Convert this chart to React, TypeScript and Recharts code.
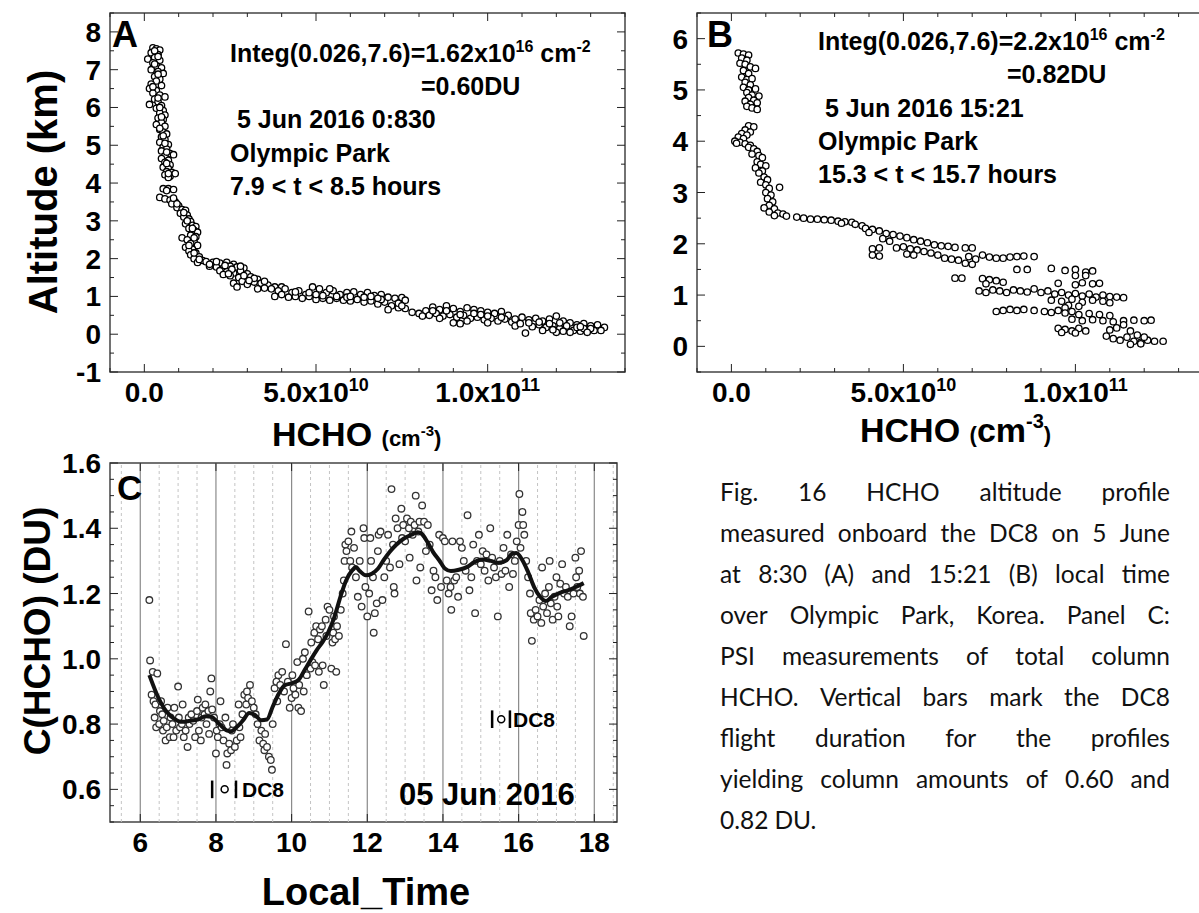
import React from 'react'
import {
  ScatterChart,
  Scatter,
  XAxis,
  YAxis,
  ReferenceArea,
  ReferenceLine,
  ReferenceDot,
} from 'recharts'

const FONT = '"Liberation Sans", Arial, Helvetica, sans-serif'

// Panel A: DC8 profile, 5 Jun 2016 ~08:30. [HCHO (x1e10 cm-3), altitude km]
const profileA: [number, number][] = [
  [0.25, 7.58], [0.35, 7.55], [0.45, 7.52], [0.2, 7.45], [0.4, 7.4], [0.3, 7.32], [0.1, 7.28], [0.45, 7.25],
  [0.25, 7.18], [0.35, 7.1], [0.5, 7.05], [0.2, 7.0], [0.4, 6.95], [0.55, 6.9], [0.3, 6.82], [0.45, 6.75],
  [0.35, 6.7], [0.2, 6.62], [0.5, 6.58], [0.15, 6.5], [0.35, 6.45], [0.25, 6.38], [0.45, 6.33], [0.6, 6.28],
  [0.3, 6.22], [0.15, 6.08], [0.4, 6.15], [0.5, 6.05], [0.35, 5.98], [0.55, 5.92], [0.45, 5.85], [0.6, 5.8],
  [0.4, 5.72], [0.55, 5.68], [0.5, 5.6], [0.35, 5.55], [0.6, 5.5], [0.45, 5.42], [0.55, 5.35], [0.65, 5.3],
  [0.5, 5.22], [0.6, 5.15], [0.45, 5.08], [0.7, 5.02], [0.55, 4.95], [0.65, 4.9], [0.5, 4.85], [0.75, 4.78],
  [0.6, 4.72], [0.85, 4.75], [0.5, 4.65], [0.7, 4.6], [0.6, 4.55], [0.75, 4.48], [0.55, 4.42], [0.7, 4.38],
  [0.65, 4.3], [0.8, 4.28], [0.6, 4.22], [0.75, 4.18], [0.7, 4.15], [0.9, 4.25],
  [0.3, 7.5], [0.4, 7.35], [0.3, 7.15], [0.4, 6.88], [0.25, 6.55], [0.4, 6.25], [0.45, 6.0], [0.5, 5.75],
  [0.45, 5.45], [0.55, 5.25], [0.6, 5.05], [0.65, 4.82], [0.65, 4.52], [0.7, 4.25],
  [0.55, 3.85], [0.7, 3.85], [0.85, 3.83], [0.45, 3.62], [0.6, 3.58], [0.75, 3.55], [0.9, 3.5], [0.8, 3.45],
  [1.0, 3.4], [0.95, 3.35], [1.1, 3.3], [1.2, 3.28], [1.05, 3.2], [1.25, 3.15], [1.15, 3.1], [1.3, 3.05],
  [1.35, 2.98], [1.2, 2.92], [1.4, 2.88], [1.5, 2.85], [1.3, 2.8], [1.45, 2.75], [1.55, 2.7], [1.35, 2.62],
  [1.5, 2.58], [1.1, 2.55], [1.25, 2.5], [1.45, 2.45], [1.35, 2.4], [1.55, 2.35], [1.2, 2.3], [1.4, 2.25],
  [1.3, 2.2], [1.5, 2.15], [1.35, 2.1], [1.6, 2.05], [1.45, 2.0], [1.7, 1.95], [1.55, 1.9],
  [0.65, 3.8], [0.85, 3.6], [0.95, 3.45], [1.15, 3.22], [1.25, 3.0], [1.4, 2.8], [1.45, 2.55], [1.3, 2.35],
  [1.45, 2.15], [1.6, 1.98],
  [1.8, 1.92], [2.0, 1.9], [2.2, 1.88], [2.4, 1.9], [2.6, 1.85], [1.9, 1.8], [2.1, 1.78], [2.3, 1.75],
  [2.5, 1.8], [2.7, 1.78], [2.9, 1.75], [2.2, 1.68], [2.4, 1.65], [2.6, 1.62], [2.8, 1.68], [3.0, 1.6],
  [2.3, 1.58], [2.5, 1.55], [2.75, 1.5], [3.1, 1.52], [3.3, 1.45], [2.6, 1.35], [2.85, 1.4], [3.0, 1.32],
  [3.2, 1.38], [3.4, 1.35], [3.6, 1.3], [2.7, 1.25], [3.5, 1.22], [3.8, 1.25], [3.3, 1.2],
  [1.9, 1.85], [2.1, 1.92], [2.35, 1.82], [2.55, 1.72], [2.8, 1.8], [2.45, 1.6], [2.9, 1.55], [3.2, 1.48],
  [3.05, 1.42], [3.5, 1.4], [3.7, 1.2], [4.0, 1.25],
  [3.9, 1.15], [4.1, 1.2], [4.3, 1.1], [4.5, 1.15], [4.7, 1.05], [4.9, 1.25], [5.1, 1.2], [5.3, 1.1],
  [5.5, 1.15], [5.7, 1.05], [5.9, 1.1], [6.1, 1.12], [6.3, 1.05], [6.5, 1.1], [6.7, 1.02], [6.9, 1.05],
  [4.2, 0.98], [4.4, 1.0], [4.6, 0.95], [4.8, 1.0], [5.0, 0.92], [5.2, 0.95], [5.4, 0.9], [5.6, 0.95],
  [5.8, 0.9], [6.0, 0.88], [6.2, 0.92], [6.4, 0.85], [6.6, 0.88], [6.8, 0.8], [7.0, 0.85], [4.0, 1.05],
  [3.8, 1.0], [5.0, 1.05], [5.9, 0.98], [6.9, 0.92], [7.1, 0.98], [7.3, 0.95], [7.5, 0.97], [7.2, 0.75],
  [7.4, 0.7], [7.6, 0.68], [7.1, 0.65],
  [4.4, 1.12], [4.8, 1.1], [5.2, 1.02], [5.6, 1.0], [6.0, 1.0], [6.4, 0.98], [6.8, 0.95], [5.4, 1.2],
  [6.6, 1.0], [7.4, 0.82], [7.6, 0.9], [7.5, 0.75],
  [7.8, 0.58], [8.0, 0.55], [8.2, 0.62], [8.4, 0.72], [8.6, 0.65], [8.8, 0.75], [9.0, 0.68], [9.2, 0.6],
  [9.4, 0.7], [9.6, 0.65], [9.8, 0.62], [10.0, 0.58], [10.2, 0.55], [10.4, 0.6], [10.6, 0.5], [8.3, 0.5],
  [8.5, 0.55], [8.7, 0.48], [8.9, 0.52], [9.1, 0.45], [9.3, 0.5], [9.5, 0.42], [9.7, 0.45], [9.9, 0.38],
  [10.1, 0.42], [10.3, 0.35], [10.5, 0.4], [10.7, 0.32], [9.0, 0.3], [9.2, 0.28], [9.4, 0.35], [10.0, 0.3],
  [10.8, 0.22],
  [8.1, 0.48], [8.4, 0.62], [8.8, 0.62], [9.2, 0.52], [9.6, 0.55], [10.0, 0.48], [10.4, 0.45], [10.8, 0.4],
  [9.8, 0.52], [8.6, 0.42],
  [11.0, 0.45], [11.2, 0.38], [11.4, 0.42], [11.6, 0.35], [11.8, 0.4], [12.0, 0.48], [12.2, 0.35], [12.4, 0.3],
  [12.6, 0.25], [12.8, 0.28], [13.0, 0.22], [13.2, 0.25], [13.4, 0.18], [11.1, 0.03], [11.3, 0.2], [11.5, 0.25],
  [11.7, 0.18], [11.9, 0.22], [12.1, 0.15], [12.3, 0.12], [12.5, 0.1], [12.7, 0.08], [12.9, 0.12], [13.1, 0.1],
  [12.0, 0.05], [12.4, 0.05], [11.6, 0.1], [10.95, 0.28], [12.6, 0.18], [12.8, 0.15],
  [11.2, 0.3], [11.5, 0.32], [11.8, 0.28], [12.1, 0.3], [12.3, 0.22], [12.7, 0.2], [13.0, 0.15], [13.3, 0.1],
  [12.2, 0.08], [12.9, 0.05], [11.9, 0.12],
]

// Panel B: DC8 profile, 5 Jun 2016 15:21. [HCHO (x1e10 cm-3), altitude km]
const profileB: [number, number][] = [
  [0.2, 5.72], [0.35, 5.7], [0.5, 5.68], [0.3, 5.62], [0.45, 5.58], [0.25, 5.52], [0.4, 5.5], [0.55, 5.45],
  [0.7, 5.42], [0.35, 5.38], [0.5, 5.32], [0.3, 5.25], [0.45, 5.2], [0.6, 5.22], [0.4, 5.15], [0.55, 5.1],
  [0.35, 5.05], [0.5, 5.0], [0.7, 5.02], [0.45, 4.95], [0.6, 4.9], [0.8, 4.88], [0.5, 4.85], [0.65, 4.8],
  [0.4, 4.78], [0.75, 4.75], [0.55, 4.72], [0.45, 4.68], [0.6, 4.65], [0.75, 4.62],
  [0.5, 4.3], [0.65, 4.28], [0.4, 4.22], [0.55, 4.18], [0.3, 4.15], [0.45, 4.12], [0.2, 4.08], [0.35, 4.05],
  [0.1, 4.0], [0.25, 3.98], [0.4, 3.95], [0.55, 3.92], [0.15, 3.96], [0.5, 3.88], [0.65, 3.85], [0.75, 3.8],
  [0.6, 3.75], [0.8, 3.72], [0.9, 3.68], [0.75, 3.6], [0.85, 3.55], [1.0, 3.52], [0.7, 3.48], [0.9, 3.42],
  [0.8, 3.38], [0.95, 3.3], [1.05, 3.25], [0.85, 3.2], [1.0, 3.15], [1.1, 3.08], [1.4, 3.1], [1.0, 3.0],
  [1.15, 2.95], [1.05, 2.88], [1.2, 2.82], [1.1, 2.75], [0.95, 2.7], [1.25, 2.68], [1.1, 2.62], [1.35, 2.6],
  [1.5, 2.58], [1.25, 2.55], [1.6, 2.54],
  [1.9, 2.52], [2.1, 2.5], [2.3, 2.48], [2.5, 2.48], [2.7, 2.47], [2.9, 2.46], [3.1, 2.44], [3.3, 2.43],
  [3.5, 2.42], [3.2, 2.4], [3.6, 2.38], [3.8, 2.35], [3.9, 2.3], [4.1, 2.28], [4.3, 2.25], [4.0, 2.22],
  [4.5, 2.2], [4.7, 2.18], [4.9, 2.15], [5.1, 2.12], [4.4, 2.1], [4.6, 2.05], [5.3, 2.08], [5.5, 2.05],
  [5.7, 2.02], [5.9, 1.98], [6.1, 1.96], [6.3, 1.95], [6.5, 1.93], [6.8, 1.92], [7.0, 1.92], [4.1, 1.9],
  [4.3, 1.92], [4.8, 1.92], [5.0, 1.94], [5.2, 1.9], [5.4, 1.88], [5.6, 1.85], [5.8, 1.82], [6.0, 1.78],
  [4.1, 1.78], [4.3, 1.76], [5.1, 1.8], [5.3, 1.78], [6.2, 1.72], [6.4, 1.7], [6.6, 1.68], [6.9, 1.75],
  [7.1, 1.7], [7.3, 1.78], [7.5, 1.74], [7.7, 1.72], [7.9, 1.72], [8.1, 1.74], [8.3, 1.75], [8.5, 1.76],
  [8.8, 1.75], [6.8, 1.62], [7.0, 1.6],
  [8.6, 1.5], [9.3, 1.52], [9.7, 1.48], [10.0, 1.5], [10.3, 1.45], [10.5, 1.47], [8.3, 1.5], [10.0, 1.38],
  [10.3, 1.38], [6.5, 1.33], [6.7, 1.33], [7.3, 1.32], [7.5, 1.3], [7.7, 1.28], [7.9, 1.25], [7.4, 1.22],
  [9.5, 1.23], [10.0, 1.2], [10.2, 1.24], [10.5, 1.22], [10.7, 1.23], [7.2, 1.08], [7.4, 1.05], [7.6, 1.1],
  [7.8, 1.08], [8.0, 1.05], [8.2, 1.1], [8.4, 1.08], [8.6, 1.06], [8.8, 1.12], [9.0, 1.05], [9.2, 1.08],
  [9.4, 1.02], [9.6, 1.05], [9.8, 1.0], [10.0, 1.03], [10.2, 0.98], [10.4, 1.02], [10.6, 0.96], [10.8, 1.0],
  [11.0, 0.97], [11.2, 0.96], [11.4, 0.95], [9.3, 0.9], [9.6, 0.88], [9.9, 0.92], [10.2, 0.86], [10.5, 0.9],
  [10.8, 0.88], [11.0, 0.85], [9.8, 0.8], [9.7, 0.75], [10.1, 0.78],
  [7.7, 0.68], [7.9, 0.7], [8.1, 0.72], [8.3, 0.7], [8.5, 0.72], [8.8, 0.7], [9.1, 0.68], [9.3, 0.66],
  [9.5, 0.7], [9.7, 0.65], [9.9, 0.68], [10.1, 0.62], [10.4, 0.64], [10.7, 0.62], [11.0, 0.6], [9.9, 0.53],
  [10.2, 0.5], [10.5, 0.52], [10.8, 0.5], [11.1, 0.48], [11.4, 0.5], [11.7, 0.51], [12.0, 0.5], [12.2, 0.51],
  [9.5, 0.35], [9.7, 0.33], [9.9, 0.3], [10.1, 0.35], [10.3, 0.3], [9.6, 0.27], [10.0, 0.26], [10.9, 0.2],
  [11.1, 0.15], [11.3, 0.12], [11.5, 0.18], [11.7, 0.1], [11.9, 0.08], [12.1, 0.12], [12.3, 0.1], [12.55, 0.1],
  [11.0, 0.32], [11.2, 0.36], [11.6, 0.3], [11.8, 0.22], [12.0, 0.18], [11.4, 0.42], [11.9, 0.05], [11.6, 0.04],
]

// Panel C: PSI total column HCHO. [local time h, DU]
const psiC: [number, number][] = [
  [6.24, 1.18], [6.26, 0.995], [6.33, 0.96], [6.45, 0.955], [6.3, 0.89], [6.35, 0.87], [6.4, 0.86], [6.38, 0.82],
  [6.42, 0.79], [6.5, 0.8], [6.52, 0.84], [6.55, 0.87], [6.58, 0.83], [6.6, 0.78], [6.62, 0.81], [6.67, 0.75],
  [6.7, 0.79], [6.72, 0.85], [6.78, 0.76], [6.8, 0.82], [6.85, 0.8], [6.88, 0.76], [6.9, 0.85], [6.95, 0.78],
  [7.0, 0.915], [7.02, 0.82], [7.05, 0.79], [7.1, 0.8], [7.12, 0.86], [7.15, 0.76], [7.2, 0.78], [7.25, 0.73],
  [7.28, 0.82], [7.3, 0.8], [7.35, 0.83], [7.4, 0.81], [7.45, 0.76], [7.5, 0.84], [7.52, 0.875], [7.55, 0.78],
  [7.6, 0.75], [7.62, 0.82], [7.65, 0.85], [7.7, 0.83], [7.72, 0.86], [7.75, 0.8], [7.8, 0.84], [7.82, 0.77],
  [7.85, 0.9], [7.88, 0.94], [7.9, 0.845], [7.95, 0.82], [8.0, 0.71], [8.02, 0.78], [8.05, 0.76], [8.1, 0.8],
  [8.12, 0.87], [8.15, 0.79], [8.2, 0.75], [8.25, 0.82], [8.28, 0.675], [8.3, 0.71], [8.35, 0.74], [8.4, 0.72],
  [8.42, 0.78], [8.45, 0.8], [8.5, 0.73], [8.55, 0.75], [8.6, 0.86], [8.62, 0.79], [8.65, 0.76], [8.7, 0.83],
  [8.75, 0.89], [8.8, 0.86], [8.82, 0.9], [8.85, 0.88], [8.9, 0.92], [8.95, 0.87], [9.0, 0.85], [9.05, 0.83],
  [9.1, 0.8], [9.15, 0.75], [9.2, 0.78], [9.25, 0.74], [9.28, 0.72], [9.3, 0.77], [9.35, 0.73], [9.4, 0.7],
  [9.45, 0.69], [9.48, 0.66], [9.5, 0.8], [9.55, 0.91], [9.6, 0.93], [9.62, 0.87], [9.65, 0.95], [9.7, 0.92],
  [9.75, 0.96], [9.8, 0.9], [9.85, 1.045], [9.9, 0.93], [9.95, 0.85], [10.0, 0.88], [10.02, 0.95], [10.05, 0.91],
  [10.1, 0.89], [10.15, 0.99], [10.18, 0.85], [10.2, 0.92], [10.25, 0.84], [10.3, 1.0], [10.32, 0.9], [10.35, 1.02],
  [10.4, 0.95], [10.45, 1.145], [10.5, 0.97], [10.52, 1.05], [10.55, 0.99], [10.6, 1.08], [10.62, 0.98], [10.65, 1.1],
  [10.7, 1.06], [10.72, 0.96], [10.75, 1.09], [10.8, 1.1], [10.82, 0.98], [10.85, 0.92], [10.9, 1.12], [10.92, 1.07],
  [10.95, 1.16], [11.0, 1.15], [11.05, 0.97], [11.08, 1.05], [11.1, 1.08], [11.12, 1.13], [11.15, 1.06], [11.18, 0.96],
  [11.2, 1.1], [11.25, 1.07], [11.3, 1.15], [11.35, 1.2], [11.38, 1.24], [11.4, 1.3], [11.42, 1.35], [11.45, 1.33],
  [11.5, 1.36], [11.55, 1.3], [11.58, 1.39], [11.6, 1.28], [11.65, 1.34], [11.7, 1.25], [11.75, 1.19], [11.8, 1.3],
  [11.85, 1.16], [11.9, 1.4], [11.92, 1.37], [11.95, 1.22], [12.0, 1.13], [12.05, 1.2], [12.08, 1.37], [12.1, 1.3],
  [12.15, 1.25], [12.17, 1.08], [12.2, 1.14], [12.25, 1.17], [12.28, 1.33], [12.3, 1.38], [12.35, 1.39], [12.4, 1.18],
  [12.45, 1.25], [12.5, 1.3], [12.55, 1.38], [12.6, 1.28], [12.64, 1.52], [12.68, 1.35], [12.7, 1.22], [12.72, 1.2],
  [12.75, 1.43], [12.8, 1.4], [12.85, 1.29], [12.9, 1.46], [12.92, 1.37], [12.95, 1.41], [13.0, 1.36], [13.05, 1.43],
  [13.1, 1.4], [13.12, 1.31], [13.15, 1.42], [13.2, 1.38], [13.25, 1.41], [13.28, 1.5], [13.3, 1.24], [13.35, 1.39],
  [13.38, 1.42], [13.4, 1.28], [13.45, 1.47], [13.5, 1.42], [13.55, 1.33], [13.6, 1.41], [13.65, 1.35], [13.7, 1.21],
  [13.75, 1.27], [13.8, 1.25], [13.85, 1.18], [13.9, 1.38], [13.95, 1.22], [14.0, 1.37], [14.05, 1.36], [14.1, 1.24],
  [14.15, 1.2], [14.2, 1.22], [14.22, 1.15], [14.25, 1.36], [14.3, 1.24], [14.35, 1.25], [14.4, 1.19], [14.45, 1.36],
  [14.5, 1.34], [14.55, 1.3], [14.6, 1.27], [14.65, 1.44], [14.7, 1.21], [14.75, 1.25], [14.8, 1.35], [14.85, 1.14],
  [14.9, 1.3], [14.95, 1.38], [15.0, 1.29], [15.05, 1.33], [15.1, 1.27], [15.15, 1.32], [15.2, 1.24], [15.25, 1.4],
  [15.3, 1.31], [15.35, 1.28], [15.4, 1.25], [15.45, 1.13], [15.5, 1.3], [15.55, 1.26], [15.6, 1.34], [15.65, 1.27],
  [15.7, 1.38], [15.75, 1.22], [15.8, 1.32], [15.85, 1.26], [15.9, 1.3], [15.95, 1.36], [16.0, 1.41], [16.02, 1.505],
  [16.05, 1.34], [16.1, 1.45], [16.12, 1.41], [16.15, 1.38], [16.2, 1.3], [16.25, 1.25], [16.3, 1.2], [16.32, 1.14],
  [16.35, 1.055], [16.4, 1.12], [16.45, 1.15], [16.5, 1.13], [16.55, 1.18], [16.6, 1.11], [16.62, 1.28], [16.65, 1.16],
  [16.7, 1.2], [16.75, 1.14], [16.8, 1.22], [16.82, 1.3], [16.85, 1.17], [16.9, 1.12], [16.95, 1.19], [17.0, 1.25],
  [17.02, 1.16], [17.05, 1.13], [17.1, 1.23], [17.15, 1.29], [17.2, 1.2], [17.25, 1.22], [17.3, 1.19], [17.35, 1.1],
  [17.4, 1.13], [17.45, 1.2], [17.5, 1.31], [17.52, 1.25], [17.55, 1.22], [17.6, 1.27], [17.62, 1.2], [17.65, 1.33],
  [17.7, 1.19], [17.72, 1.07],
]

// smoothed curve through the PSI points
const smoothC: [number, number][] = [
  [6.24, 0.95], [6.47, 0.883], [6.68, 0.84], [6.89, 0.817], [7.1, 0.807], [7.31, 0.81], [7.52, 0.814], [7.73, 0.824],
  [7.88, 0.822], [8.09, 0.8], [8.3, 0.78], [8.4, 0.778], [8.57, 0.793], [8.72, 0.812], [8.88, 0.834], [9.04, 0.827],
  [9.19, 0.812], [9.35, 0.814], [9.5, 0.853], [9.66, 0.893], [9.82, 0.919], [10.03, 0.926], [10.19, 0.936], [10.34, 0.965],
  [10.5, 0.996], [10.66, 1.026], [10.82, 1.052], [10.97, 1.082], [11.13, 1.128], [11.29, 1.19], [11.44, 1.24], [11.6, 1.271],
  [11.7, 1.281], [11.8, 1.269], [11.96, 1.256], [12.12, 1.261], [12.28, 1.276], [12.43, 1.302], [12.59, 1.327], [12.75, 1.348],
  [12.96, 1.368], [13.17, 1.38], [13.33, 1.388], [13.43, 1.384], [13.59, 1.358], [13.74, 1.327], [13.9, 1.302], [14.06, 1.276],
  [14.21, 1.269], [14.42, 1.273], [14.63, 1.281], [14.84, 1.297], [15.05, 1.304], [15.26, 1.3], [15.47, 1.294], [15.68, 1.302],
  [15.83, 1.322], [15.94, 1.324], [16.1, 1.302], [16.25, 1.266], [16.41, 1.22], [16.57, 1.19], [16.72, 1.177], [16.88, 1.19],
  [17.09, 1.202], [17.3, 1.21], [17.51, 1.22], [17.72, 1.232],
]

// DC8 flight windows marked in panel C
const flightStart = [7.9, 15.3]
const flightEnd = [8.53, 15.77]
const flightMid = [8.23, 15.54]
const flightLevel = [0.6, 0.815]

// ticks
const hchoTicks = [-1, 0, 1, 2, 3, 4, 5, 6, 7, 8, 9, 10, 11, 12, 13, 14] // x1e10
const hchoMajor = [0, 5, 10]
const hchoMantissa = ['0.0', '5.0x10', '1.0x10']
const hchoExponent = ['', '10', '11']
const altTicksA = [-1, -0.5, 0, 0.5, 1, 1.5, 2, 2.5, 3, 3.5, 4, 4.5, 5, 5.5, 6, 6.5, 7, 7.5, 8, 8.5]
const altMajorA = [-1, 0, 1, 2, 3, 4, 5, 6, 7, 8]
const altTicksB = [-0.5, 0, 0.5, 1, 1.5, 2, 2.5, 3, 3.5, 4, 4.5, 5, 5.5, 6, 6.5]
const altMajorB = [0, 1, 2, 3, 4, 5, 6]
const hourTicks = [6, 8, 10, 12, 14, 16, 18]
const gridHours = [5.5, 6, 6.5, 7, 7.5, 8, 8.5, 9, 9.5, 10, 10.5, 11, 11.5, 12, 12.5, 13, 13.5, 14, 14.5, 15, 15.5, 16, 16.5, 17, 17.5, 18, 18.5]
const duTicks = [0.5, 0.55, 0.6, 0.65, 0.7, 0.75, 0.8, 0.85, 0.9, 0.95, 1.0, 1.05, 1.1, 1.15, 1.2, 1.25, 1.3, 1.35, 1.4, 1.45, 1.5, 1.55, 1.6]
const duMajor = [0.6, 0.8, 1.0, 1.2, 1.4, 1.6]

const captionLines = [
  'Fig. 16 HCHO altitude profile',
  'measured onboard the DC8 on 5 June',
  'at 8:30 (A) and 15:21 (B) local time',
  'over Olympic Park, Korea. Panel C:',
  'PSI measurements of total column',
  'HCHO. Vertical bars mark the DC8',
  'flight duration for the profiles',
  'yielding column amounts of 0.60 and',
  '0.82 DU.',
]

type Box = { left: number; top: number; right: number; bottom: number }
const BOX_A: Box = { left: 110, top: 13, right: 625, bottom: 372 }
const BOX_B: Box = { left: 697, top: 13, right: 1213, bottom: 372 }
const BOX_C: Box = { left: 110, top: 463, right: 617, bottom: 822 }
const PAGE_H = 913
const TICK_FONT = 28

const near = (list: number[], v: number) => list.findIndex((m) => Math.abs(m - v) < 1e-6)

const Ring = (p: any) => <circle cx={p.cx} cy={p.cy} r={3.2} fill="#fff" stroke="#000" strokeWidth={1.3} />
const GreyRing = (p: any) => <circle cx={p.cx} cy={p.cy} r={3.3} fill="#fff" stroke="#333" strokeWidth={1.3} />
const Nothing = () => <g />

function HchoTick(props: any) {
  const { x, payload, box } = props
  const i = near(hchoMajor, payload.value / 1e10)
  const len = i >= 0 ? 8 : 4
  return (
    <g>
      <line x1={x} x2={x} y1={box.bottom} y2={box.bottom - len} stroke="#222" />
      <line x1={x} x2={x} y1={box.top} y2={box.top + len} stroke="#222" />
      {i >= 0 && (
        <text x={x} y={box.bottom + 30} textAnchor="middle" fontSize={TICK_FONT} fontWeight="bold" fontFamily={FONT} fill="#000">
          {hchoMantissa[i]}
          {hchoExponent[i] && (
            <tspan dy={-11} fontSize={18}>
              {hchoExponent[i]}
            </tspan>
          )}
        </text>
      )}
    </g>
  )
}

function HourTick(props: any) {
  const { x, payload, box } = props
  return (
    <g>
      <line x1={x} x2={x} y1={box.bottom} y2={box.bottom - 8} stroke="#222" />
      <line x1={x} x2={x} y1={box.top} y2={box.top + 8} stroke="#222" />
      <text x={x} y={box.bottom + 30} textAnchor="middle" fontSize={TICK_FONT} fontWeight="bold" fontFamily={FONT} fill="#000">
        {payload.value}
      </text>
    </g>
  )
}

function ValueTick(props: any) {
  const { y, payload, box, majors, digits } = props
  const i = near(majors, payload.value)
  const len = i >= 0 ? 8 : 4
  return (
    <g>
      <line x1={box.left} x2={box.left + len} y1={y} y2={y} stroke="#222" />
      <line x1={box.right} x2={box.right - len} y1={y} y2={y} stroke="#222" />
      {i >= 0 && (
        <text x={box.left - 9} y={y + 10} textAnchor="end" fontSize={TICK_FONT} fontWeight="bold" fontFamily={FONT} fill="#000">
          {payload.value.toFixed(digits)}
        </text>
      )}
    </g>
  )
}

function ProfilePanel({ rows, box, width, yDomain, yTicks, yMajor }: any) {
  const data = rows.map(([h, alt]: [number, number]) => ({ x: h * 1e10, y: alt }))
  return (
    <div style={{ position: 'absolute', left: 0, top: 0 }}>
      <ScatterChart width={width} height={PAGE_H} margin={{ top: box.top, left: 0, right: width - box.right, bottom: 0 }}>
        <XAxis
          type="number"
          dataKey="x"
          domain={[-1e10, 1.4e11]}
          ticks={hchoTicks.map((t) => t * 1e10)}
          interval={0}
          height={PAGE_H - box.bottom}
          axisLine={false}
          tickLine={false}
          allowDataOverflow
          tick={(p: any) => <HchoTick {...p} box={box} />}
        />
        <YAxis
          type="number"
          dataKey="y"
          domain={yDomain}
          ticks={yTicks}
          interval={0}
          width={box.left}
          axisLine={false}
          tickLine={false}
          allowDataOverflow
          tick={(p: any) => <ValueTick {...p} box={box} majors={yMajor} digits={0} />}
        />
        <ReferenceArea x1={-1e10} x2={1.4e11} y1={yDomain[0]} y2={yDomain[1]} fill="none" stroke="#444" strokeWidth={1.5} />
        <Scatter data={data} shape={Ring} isAnimationActive={false} />
      </ScatterChart>
    </div>
  )
}

function ColumnPanel() {
  const box = BOX_C
  const points = psiC.map(([h, v]) => ({ x: h, y: v }))
  const curve = smoothC.map(([h, v]) => ({ x: h, y: v }))
  return (
    <div style={{ position: 'absolute', left: 0, top: 0 }}>
      <ScatterChart width={640} height={PAGE_H} margin={{ top: box.top, left: 0, right: 640 - box.right, bottom: 0 }}>
        <XAxis
          type="number"
          dataKey="x"
          domain={[5.2, 18.6]}
          ticks={hourTicks}
          interval={0}
          height={PAGE_H - box.bottom}
          axisLine={false}
          tickLine={false}
          allowDataOverflow
          tick={(p: any) => <HourTick {...p} box={box} />}
        />
        <YAxis
          type="number"
          dataKey="y"
          domain={[0.5, 1.6]}
          ticks={duTicks}
          interval={0}
          width={box.left}
          axisLine={false}
          tickLine={false}
          allowDataOverflow
          tick={(p: any) => <ValueTick {...p} box={box} majors={duMajor} digits={1} />}
        />
        {gridHours.map((h) =>
          h % 2 === 0 ? (
            <ReferenceLine key={h} x={h} stroke="#8a8a8a" strokeWidth={1.2} />
          ) : (
            <ReferenceLine key={h} x={h} stroke="#c4c4c4" strokeDasharray="3 3" />
          )
        )}
        <ReferenceArea x1={5.2} x2={18.6} y1={0.5} y2={1.6} fill="none" stroke="#444" strokeWidth={1.5} />
        <Scatter data={points} shape={GreyRing} isAnimationActive={false} />
        <Scatter
          data={curve}
          shape={Nothing}
          line={{ stroke: '#111', strokeWidth: 4 }}
          lineJointType="monotoneX"
          isAnimationActive={false}
        />
        {flightStart.map((s, i) => (
          <ReferenceLine
            key={`s${i}`}
            segment={[{ x: s, y: flightLevel[i] - 0.027 }, { x: s, y: flightLevel[i] + 0.027 }]}
            stroke="#000"
            strokeWidth={2.5}
          />
        ))}
        {flightEnd.map((e, i) => (
          <ReferenceLine
            key={`e${i}`}
            segment={[{ x: e, y: flightLevel[i] - 0.027 }, { x: e, y: flightLevel[i] + 0.027 }]}
            stroke="#000"
            strokeWidth={2.5}
          />
        ))}
        {flightMid.map((m, i) => (
          <ReferenceDot key={`m${i}`} x={m} y={flightLevel[i]} r={3.5} fill="#fff" stroke="#000" strokeWidth={1.5} />
        ))}
      </ScatterChart>
    </div>
  )
}

function Annotations() {
  const sup = 16
  const fs = 25
  return (
    <svg
      width={1199}
      height={PAGE_H}
      style={{ position: 'absolute', left: 0, top: 0, pointerEvents: 'none' }}
      fontFamily={FONT}
      fontWeight="bold"
      fill="#000"
    >
      {/* panel A */}
      <text x={112} y={47} fontSize={36}>A</text>
      <text x={230} y={62} fontSize={fs}>
        Integ(0.026,7.6)=1.62x10<tspan dy={-10} fontSize={sup}>16</tspan>
        <tspan dy={10}> cm</tspan>
        <tspan dy={-10} fontSize={sup}>-2</tspan>
      </text>
      <text x={421} y={95} fontSize={fs}>=0.60DU</text>
      <text x={237} y={128} fontSize={fs}>5 Jun 2016 0:830</text>
      <text x={230} y={162} fontSize={fs}>Olympic Park</text>
      <text x={230} y={195} fontSize={fs}>7.9 &lt; t &lt; 8.5 hours</text>
      <text transform="translate(57,192) rotate(-90)" textAnchor="middle" fontSize={40}>Altitude (km)</text>
      <text x={272} y={446}>
        <tspan fontSize={34}>HCHO </tspan>
        <tspan fontSize={22}>(cm</tspan>
        <tspan fontSize={15} dy={-10}>-3</tspan>
        <tspan fontSize={22} dy={10}>)</tspan>
      </text>

      {/* panel B */}
      <text x={707} y={47} fontSize={36}>B</text>
      <text x={818} y={50} fontSize={fs}>
        Integ(0.026,7.6)=2.2x10<tspan dy={-10} fontSize={sup}>16</tspan>
        <tspan dy={10}> cm</tspan>
        <tspan dy={-10} fontSize={sup}>-2</tspan>
      </text>
      <text x={1007} y={83} fontSize={fs}>=0.82DU</text>
      <text x={825} y={117} fontSize={fs}>5 Jun 2016 15:21</text>
      <text x={818} y={150} fontSize={fs}>Olympic Park</text>
      <text x={818} y={183} fontSize={fs}>15.3 &lt; t &lt; 15.7 hours</text>
      <text x={860} y={442}>
        <tspan fontSize={34}>HCHO </tspan>
        <tspan fontSize={22}>(</tspan>
        <tspan fontSize={34}>cm</tspan>
        <tspan fontSize={20} dy={-14}>-3</tspan>
        <tspan fontSize={22} dy={14}>)</tspan>
      </text>

      {/* panel C */}
      <text x={117} y={500} fontSize={35}>C</text>
      <text x={242} y={797} fontSize={21}>DC8</text>
      <text x={513} y={727} fontSize={21}>DC8</text>
      <text x={399} y={805} fontSize={31}>05 Jun 2016</text>
      <text transform="translate(50,631) rotate(-90)" textAnchor="middle" fontSize={37}>C(HCHO) (DU)</text>
      <text x={366} y={905} textAnchor="middle" fontSize={38}>Local_Time</text>
    </svg>
  )
}

function Caption() {
  return (
    <div
      style={{
        position: 'absolute',
        left: 720,
        top: 471,
        width: 450,
        fontFamily: 'Lato, "Open Sans", sans-serif',
        fontSize: 24.5,
        color: '#111',
      }}
    >
      {captionLines.map((line, i) => (
        <div
          key={i}
          style={{
            height: 41,
            lineHeight: '41px',
            display: 'flex',
            justifyContent: i < captionLines.length - 1 ? 'space-between' : 'flex-start',
            gap: i < captionLines.length - 1 ? 0 : 6,
            whiteSpace: 'nowrap',
          }}
        >
          {line.split(' ').map((w, j) => (
            <span key={j}>{w}</span>
          ))}
        </div>
      ))}
    </div>
  )
}

export default function App() {
  return (
    <div style={{ position: 'absolute', left: 0, top: 0, width: 1199, height: PAGE_H, overflow: 'hidden', background: '#fff' }}>
      <ProfilePanel rows={profileA} box={BOX_A} width={640} yDomain={[-1, 8.5]} yTicks={altTicksA} yMajor={altMajorA} />
      <ProfilePanel rows={profileB} box={BOX_B} width={1230} yDomain={[-0.5, 6.5]} yTicks={altTicksB} yMajor={altMajorB} />
      <ColumnPanel />
      <Caption />
      <Annotations />
    </div>
  )
}
